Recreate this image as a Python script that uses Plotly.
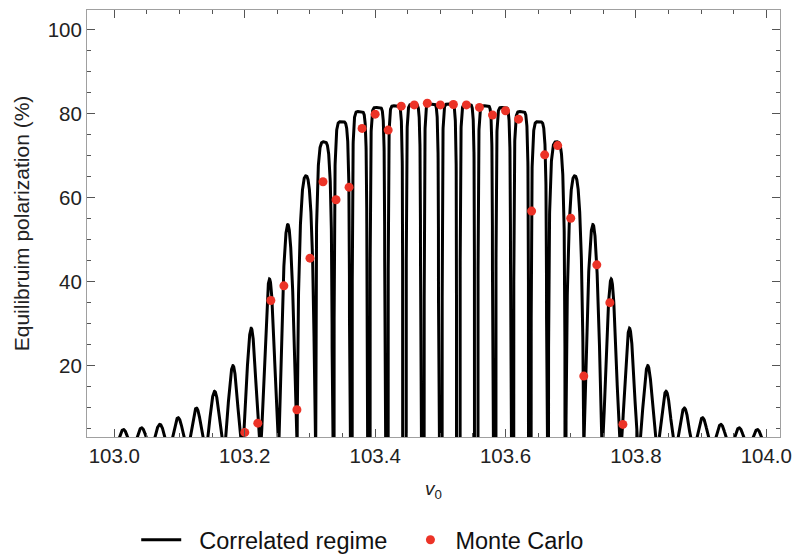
import numpy as np
import plotly.graph_objects as go

# Resonance dips (zeros of the correlated-regime curve)
dip_v0 = [103.0, 103.0277, 103.0557, 103.0838, 103.1118, 103.1398, 103.1678,
          103.1959, 103.2239, 103.2520, 103.2800, 103.3077, 103.3352, 103.3625,
          103.3897, 103.4173, 103.4449, 103.4724, 103.5,
          103.5276, 103.5551, 103.5827, 103.6103, 103.6375, 103.6648, 103.6923,
          103.7200, 103.7480, 103.7761, 103.8041, 103.8322, 103.8602, 103.8882,
          103.9162, 103.9443, 103.9723, 104.0]

# Peak height of each lobe between consecutive dips (%)
lobe_peak = [4.8, 5.2, 6.0, 7.6, 9.9, 13.9, 20.0, 28.9, 40.6, 53.6, 65.2, 73.3,
             78.1, 80.5, 81.5, 81.9, 82.2, 82.3,
             82.3, 82.2, 81.9, 81.5, 80.5, 78.1, 73.3, 65.2, 53.6, 40.6, 28.9,
             20.0, 13.9, 9.9, 7.6, 6.0, 5.2, 4.8]

# Monte Carlo points
mc_v0 = [103.20, 103.22, 103.24, 103.26, 103.28, 103.30, 103.32, 103.34, 103.36,
         103.38, 103.40, 103.42, 103.44, 103.46, 103.48, 103.50, 103.52, 103.54,
         103.56, 103.58, 103.60, 103.62, 103.64, 103.66, 103.68, 103.70, 103.72,
         103.74, 103.76, 103.78]
mc_pol = [4.1, 6.3, 35.5, 39.0, 9.5, 45.6, 63.8, 59.5, 62.5, 76.5, 79.9, 76.1,
          81.8, 82.1, 82.5, 82.1, 82.2, 82.1, 81.5, 79.7, 80.7, 78.7, 56.8, 70.2,
          72.4, 55.1, 17.5, 44.0, 35.0, 6.0]

x_ticks = [103.0, 103.2, 103.4, 103.6, 103.8, 104.0]
x_labels = ["103.0", "103.2", "103.4", "103.6", "103.8", "104.0"]
y_ticks = [20, 40, 60, 80, 100]

# build the curve lobe by lobe (profile of each lobe between its two dips)
xs, ys = [], []
for a, b, h in zip(dip_v0[:-1], dip_v0[1:], lobe_peak):
    r = h / 83.0
    alpha = 2 + 6 * r ** 10         # flatness of the top
    beta = 0.5 + 6 * r ** 6         # steepness of the walls
    delta = 0.11 * r ** 8           # half-width of the notch at each dip
    t = np.linspace(0.0, 1.0, 321)
    u = (2 * t - 1) / (1 - 2 * delta)
    inside = np.clip(1 - np.abs(u) ** alpha, 0, None)
    g = inside ** (1 / beta)
    xs.extend((a + (b - a) * t).tolist())
    ys.extend((h * g).tolist())

fig = go.Figure()
fig.add_trace(go.Scatter(x=xs, y=ys, mode="lines",
                         name="\u00a0\u00a0Correlated regime\u00a0\u00a0",
                         line=dict(color="black", width=3)))
fig.add_trace(go.Scatter(x=mc_v0, y=mc_pol, mode="markers", name="Monte Carlo",
                         marker=dict(color="#ec3327", size=9)))

font = "Liberation Sans, Arial, sans-serif"
axis_common = dict(showgrid=False, zeroline=False, showline=True, linecolor="#a0a0a0",
                   linewidth=1, mirror="allticks", ticks="inside", tickcolor="#555",
                   tickwidth=1, automargin=False,
                   tickfont=dict(size=20.5, color="#222", family=font))

fig.update_xaxes(range=[102.958, 104.021], tickvals=x_ticks, ticktext=x_labels,
                 ticklen=8,
                 minor=dict(tick0=103.0, dtick=0.05, ticks="inside", ticklen=4,
                            tickcolor="#555", tickwidth=1),
                 title=dict(text="<i>v</i><sub>0</sub>", standoff=16,
                            font=dict(size=19, color="#222", family=font)),
                 **axis_common)
fig.update_yaxes(range=[3, 104.7], tickvals=y_ticks, ticklen=8,
                 minor=dict(tick0=0, dtick=5, ticks="inside", ticklen=4,
                            tickcolor="#555", tickwidth=1),
                 title=dict(text="Equilibruim polarization (%)", standoff=12,
                            font=dict(size=21, color="#222", family=font)),
                 **axis_common)

fig.update_layout(
    width=792, height=555,
    margin=dict(l=87, r=12, t=10, b=118),
    plot_bgcolor="white", paper_bgcolor="white",
    font=dict(family=font, color="#222"),
    legend=dict(orientation="h", xref="container", yref="container",
                x=0.172, xanchor="left", y=0.027, yanchor="middle",
                font=dict(size=23.5, color="#111", family=font), itemwidth=40),
    showlegend=True,
)

fig.write_html("out.html")
